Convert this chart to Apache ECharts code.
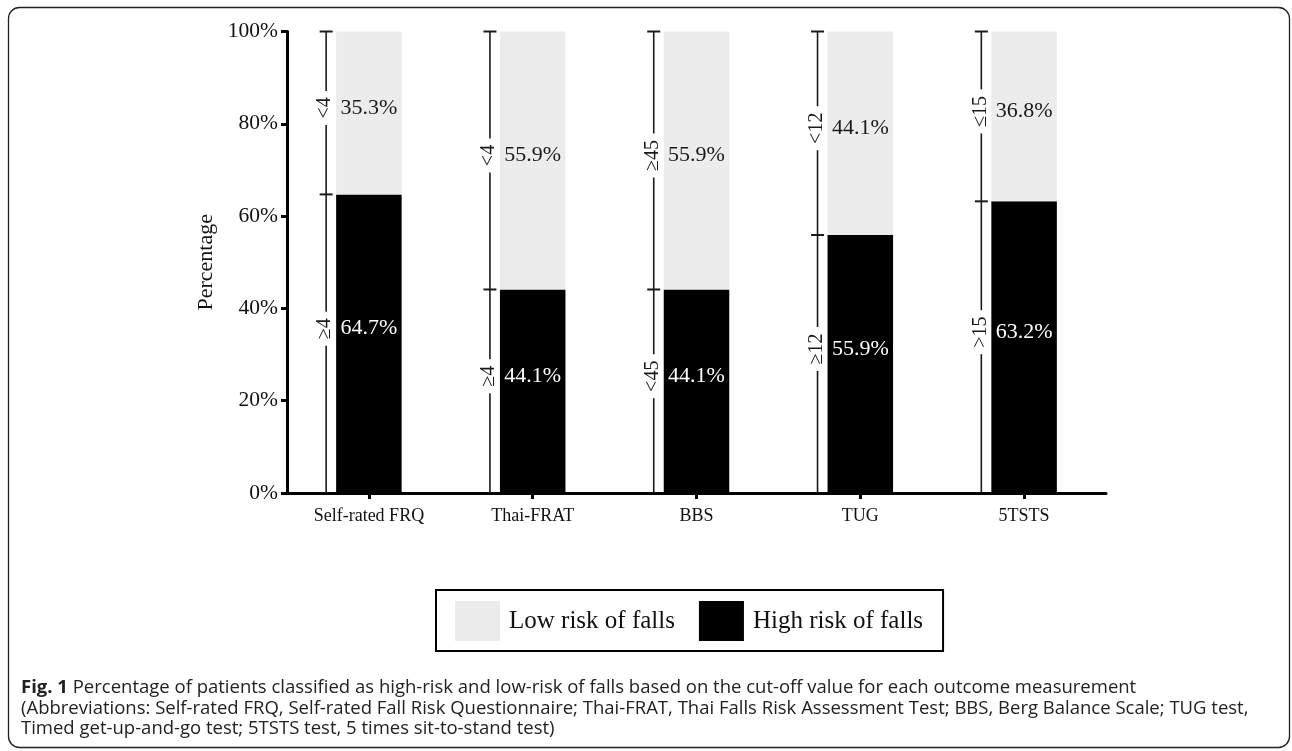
<!DOCTYPE html>
<html><head><meta charset="utf-8">
<script src="https://cdn.jsdelivr.net/npm/echarts@6/dist/echarts.min.js"></script>
<style>html,body{margin:0;padding:0;background:#fff}#c{width:1292px;height:751px}</style>
</head><body><div id="c"></div>
<script>
const categories = ['Self-rated FRQ', 'Thai-FRAT', 'BBS', 'TUG', '5TSTS'];
const highRisk = [64.7, 44.1, 44.1, 55.9, 63.2];
const lowRisk = [35.3, 55.9, 55.9, 44.1, 36.8];
const highCutoff = ['≥4', '≥4', '<45', '≥12', '>15'];
const lowCutoff = ['<4', '<4', '≥45', '<12', '≤15'];
const seriesNames = ['High risk of falls', 'Low risk of falls'];
const captionLines = [
  '{b|Fig. 1} Percentage of patients classified as high-risk and low-risk of falls based on the cut-off value for each outcome measurement',
  '(Abbreviations: Self-rated FRQ, Self-rated Fall Risk Questionnaire; Thai-FRAT, Thai Falls Risk Assessment Test; BBS, Berg Balance Scale; TUG test,',
  'Timed get-up-and-go test; 5TSTS test, 5 times sit-to-stand test)'
];

const SERIF = '"Liberation Serif", "Times New Roman", serif';
const HIGH_OFF = -15, LOW_OFF = -5;

function renderBracket(params, api) {
  const idx = params.dataIndex;
  const i = api.value(0);
  const hi = api.value(1);
  const p0 = api.coord([i, 0]);
  const pS = api.coord([i, hi]);
  const pT = api.coord([i, 100]);
  const band = api.size([1, 0])[0];
  const x = p0[0] - band * 0.4 / 2 - 10;
  const children = [];
  const lineStyle = {stroke: '#1a1a1a', lineWidth: 1.6};
  const segs = [
    [p0[1], pS[1], highCutoff[idx], HIGH_OFF],
    [pS[1], pT[1], lowCutoff[idx], LOW_OFF]
  ];
  segs.forEach(function (s) {
    const yb = s[0], yt = s[1], txt = s[2];
    const yc = (yb + yt) / 2 + s[3];
    const half = (14 + 10 * txt.length) / 2;
    children.push({type: 'line', shape: {x1: x, y1: yb, x2: x, y2: yc + half}, style: lineStyle});
    children.push({type: 'line', shape: {x1: x, y1: yc - half, x2: x, y2: yt}, style: lineStyle});
    children.push({
      type: 'text', x: x - 1, y: yc, rotation: Math.PI / 2,
      style: {text: txt, font: '20px ' + SERIF, fill: '#1a1a1a', align: 'center', verticalAlign: 'middle'}
    });
  });
  [pT[1], pS[1]].forEach(function (y) {
    children.push({type: 'line', shape: {x1: x - 6.5, y1: y, x2: x + 6.5, y2: y}, style: {stroke: '#1a1a1a', lineWidth: 2}});
  });
  return {type: 'group', children: children};
}

const chart = echarts.init(document.getElementById('c'));
chart.setOption({
  animation: false,
  backgroundColor: '#fff',
  grid: {left: 287, right: 186, top: 31.5, bottom: 258},
  legend: {
    data: ['Low risk of falls', 'High risk of falls'],
    left: 436, top: 590,
    icon: 'rect', itemWidth: 45, itemHeight: 40, itemGap: 24,
    padding: [11, 20, 10, 19],
    borderColor: '#000', borderWidth: 2,
    selectedMode: false,
    textStyle: {fontFamily: SERIF, fontSize: 25, color: '#111', padding: [0, 0, 0, 4]}
  },
  xAxis: {
    type: 'category', data: categories,
    axisLine: {lineStyle: {color: '#000', width: 3}},
    axisTick: {show: true, alignWithLabel: true, length: 6, lineStyle: {color: '#000', width: 3}},
    axisLabel: {fontFamily: SERIF, fontSize: 18, color: '#111', margin: 14, interval: 0}
  },
  yAxis: {
    type: 'value', min: 0, max: 100, interval: 20,
    name: 'Percentage', nameLocation: 'middle', nameRotate: 90, nameGap: 66,
    nameTextStyle: {fontFamily: SERIF, fontSize: 22, color: '#111'},
    axisLine: {show: true, lineStyle: {color: '#000', width: 3}},
    axisTick: {show: true, length: 6, lineStyle: {color: '#000', width: 3}},
    axisLabel: {formatter: '{value}%', fontFamily: SERIF, fontSize: 21.5, color: '#111', margin: 9},
    splitLine: {show: false}
  },
  series: [
    {
      name: seriesNames[0], type: 'bar', stack: 'total', data: highRisk, barWidth: '40%',
      itemStyle: {color: '#000'},
      label: {show: true, position: 'inside', offset: [0, HIGH_OFF], color: '#fff', textBorderWidth: 0,
        fontFamily: SERIF, fontSize: 22, formatter: function (p) { return p.value.toFixed(1) + '%'; }}
    },
    {
      name: seriesNames[1], type: 'bar', stack: 'total', data: lowRisk, barWidth: '40%',
      itemStyle: {color: '#ececec'},
      label: {show: true, position: 'inside', offset: [0, LOW_OFF], color: '#1a1a1a', textBorderWidth: 0,
        fontFamily: SERIF, fontSize: 22, formatter: function (p) { return p.value.toFixed(1) + '%'; }}
    },
    {
      type: 'custom', silent: true, z: 5,
      renderItem: renderBracket,
      encode: {x: 0, y: 1},
      data: categories.map(function (c, i) { return [i, highRisk[i]]; })
    }
  ],
  graphic: [
    {type: 'rect', silent: true, shape: {x: 8.5, y: 7.5, width: 1281, height: 740, r: 11},
      style: {fill: 'none', stroke: '#222', lineWidth: 1.3}},
  ].concat(captionLines.map(function (t, k) {
    return {
      type: 'text', silent: true, x: 21, y: 688 + k * 20.5,
      style: {
        text: t, font: '18.5px "Open Sans", sans-serif', fill: '#222', verticalAlign: 'middle',
        rich: {b: {fontWeight: 'bold', fontFamily: '"Open Sans", sans-serif', fontSize: 18.5, fill: '#222'}}
      }
    };
  }))
});
</script>
</body></html>
